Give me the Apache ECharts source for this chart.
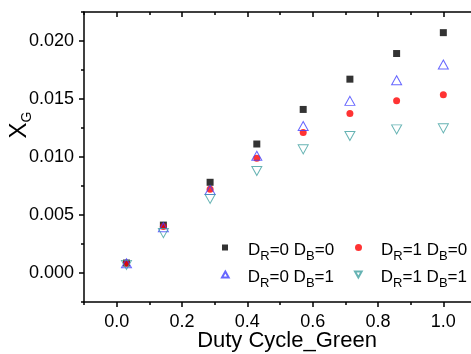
<!DOCTYPE html>
<html>
<head>
<meta charset="utf-8">
<script src="https://cdn.jsdelivr.net/npm/echarts@6/dist/echarts.min.js"></script>
<style>html,body{margin:0;padding:0;background:#fff;}#c{width:471px;height:354px;}</style>
</head>
<body>
<div id="c"></div>
<script>
const xVals = [0.03, 0.143, 0.286, 0.429, 0.571, 0.714, 0.857, 1.0];
const sR0B0 = [0.00086, 0.00413, 0.00782, 0.01112, 0.0141, 0.01671, 0.01892, 0.02072];
const sR1B0 = [0.00084, 0.00401, 0.00722, 0.00989, 0.01212, 0.01376, 0.01484, 0.01536];
const sR0B1 = [0.00084, 0.00395, 0.00716, 0.01011, 0.01267, 0.01484, 0.01662, 0.01797];
const sR1B1 = [0.00070, 0.00344, 0.00639, 0.00880, 0.01066, 0.01181, 0.01238, 0.01247];
const seriesNames = ['R0B0', 'R1B0', 'R0B1', 'R1B1'];
const legendLabels = ['{a|D}{s|R}{a|=0 D}{s|B}{a|=0}', '{a|D}{s|R}{a|=1 D}{s|B}{a|=0}', '{a|D}{s|R}{a|=0 D}{s|B}{a|=1}', '{a|D}{s|R}{a|=1 D}{s|B}{a|=1}'];
const xTicks = [0, 0.2, 0.4, 0.6, 0.8, 1.0];
const xMinorTicks = [-0.1, 0.1, 0.3, 0.5, 0.7, 0.9, 1.1];
const yTicks = [0, 0.005, 0.01, 0.015, 0.02];
const yMinorTicks = [-0.0025, 0.0025, 0.0075, 0.0125, 0.0175, 0.0225];
const xTitle = 'Duty Cycle_Green';

const FONT = 'Liberation Sans, Arial, sans-serif';
const pair = (ys) => xVals.map((x, i) => [x, ys[i]]);
const chart = echarts.init(document.getElementById('c'), null, {renderer: 'canvas'});
const lineStyle = {color: '#000', width: 1.5};
const grid = {left: 84, top: 12, width: 392, height: 290, outerBoundsMode: 'none', containLabel: false};
const xBase = {type: 'value', min: -0.1, max: 1.1, gridIndex: 0, splitLine: {show: false}};
const yBase = {type: 'value', min: -0.0025, max: 0.0225, gridIndex: 0, splitLine: {show: false}};
const rich = {
  a: {fontSize: 17, fontFamily: FONT, color: '#000', lineHeight: 24, verticalAlign: 'middle'},
  s: {fontSize: 13, fontFamily: FONT, color: '#000', lineHeight: 12, verticalAlign: 'bottom'}
};
const legendIcons = [
  'rect', 'circle',
  'path://M5,0 L10,9 L0,9 Z',
  'path://M0,0 L10,0 L5,9 Z'
];
const legendSizes = [[6, 6], [7, 7], [7, 6], [7, 6]];
const legendPos = [[222, 242], [355, 242], [221, 269], [354, 269]];
const legends = seriesNames.map((n, i) => ({
  data: [{name: n, icon: legendIcons[i]}], left: legendPos[i][0], top: legendPos[i][1],
  itemWidth: legendSizes[i][0], itemHeight: legendSizes[i][1], padding: 0,
  formatter: () => legendLabels[i],
  textStyle: {rich: rich, padding: [6, 0, 0, 21 - legendSizes[i][0]]}
}));
chart.setOption({
  animation: false,
  backgroundColor: '#fff',
  grid: grid,
  legend: legends,
  xAxis: [
    Object.assign({}, xBase, {
      position: 'bottom',
      axisLine: {show: true, lineStyle: lineStyle, onZero: false},
      axisTick: {show: true, length: 5, lineStyle: lineStyle, customValues: xTicks},
      axisLabel: {show: true, customValues: xTicks, formatter: v => v.toFixed(1), fontSize: 18, fontFamily: FONT, color: '#000', margin: 11}
    }),
    Object.assign({}, xBase, {
      position: 'bottom', axisLine: {show: false, onZero: false},
      axisTick: {show: true, length: 3, lineStyle: lineStyle, customValues: xMinorTicks},
      axisLabel: {show: false}
    }),
    Object.assign({}, xBase, {
      position: 'top', axisLine: {show: true, lineStyle: lineStyle, onZero: false},
      axisTick: {show: true, inside: true, length: 5, lineStyle: lineStyle, customValues: xTicks},
      axisLabel: {show: false}
    }),
    Object.assign({}, xBase, {
      position: 'top', axisLine: {show: false, onZero: false},
      axisTick: {show: true, inside: true, length: 3, lineStyle: lineStyle, customValues: xMinorTicks},
      axisLabel: {show: false}
    })
  ],
  yAxis: [
    Object.assign({}, yBase, {
      position: 'left',
      axisLine: {show: true, lineStyle: lineStyle, onZero: false},
      axisTick: {show: true, length: 5, lineStyle: lineStyle, customValues: yTicks},
      axisLabel: {show: true, customValues: yTicks, formatter: v => v.toFixed(3), fontSize: 18, fontFamily: FONT, color: '#000', margin: 10}
    }),
    Object.assign({}, yBase, {
      position: 'left', axisLine: {show: false, onZero: false},
      axisTick: {show: true, length: 3, lineStyle: lineStyle, customValues: yMinorTicks},
      axisLabel: {show: false}
    }),
    Object.assign({}, yBase, {
      position: 'right', axisLine: {show: true, lineStyle: lineStyle, onZero: false},
      axisTick: {show: true, inside: true, length: 5, lineStyle: lineStyle, customValues: yTicks},
      axisLabel: {show: false}
    })
  ],
  graphic: [{
    type: 'text', x: 19, y: 125, rotation: Math.PI / 2,
    style: {
      text: '{x|X}{g|G}', align: 'center', verticalAlign: 'middle',
      rich: {
        x: {fontSize: 24, fontFamily: FONT, fill: '#000', lineHeight: 30, verticalAlign: 'middle'},
        g: {fontSize: 14, fontFamily: FONT, fill: '#000', lineHeight: 14, verticalAlign: 'bottom'}
      }
    }
  }, {
    type: 'text', x: 287, y: 341,
    style: {text: xTitle, align: 'center', verticalAlign: 'middle', fontSize: 22, fontFamily: FONT, fill: '#000'}
  }],
  series: [
    {name: 'R0B0', type: 'scatter', data: pair(sR0B0), symbol: 'rect', symbolSize: 7,
     itemStyle: {color: '#000'}},
    {name: 'R1B0', type: 'scatter', data: pair(sR1B0), symbol: 'circle', symbolSize: 7,
     itemStyle: {color: '#ff0000'}},
    {name: 'R0B1', type: 'scatter', data: pair(sR0B1), symbol: 'triangle', symbolSize: [10, 9],
     itemStyle: {color: 'rgba(255,255,255,0)', borderColor: '#4040ff', borderWidth: 1}},
    {name: 'R1B1', type: 'scatter', data: pair(sR1B1), symbol: 'triangle', symbolSize: [10, 9], symbolRotate: 180,
     itemStyle: {color: 'rgba(255,255,255,0)', borderColor: '#40a0a0', borderWidth: 1}}
  ]
});
</script>
</body>
</html>
